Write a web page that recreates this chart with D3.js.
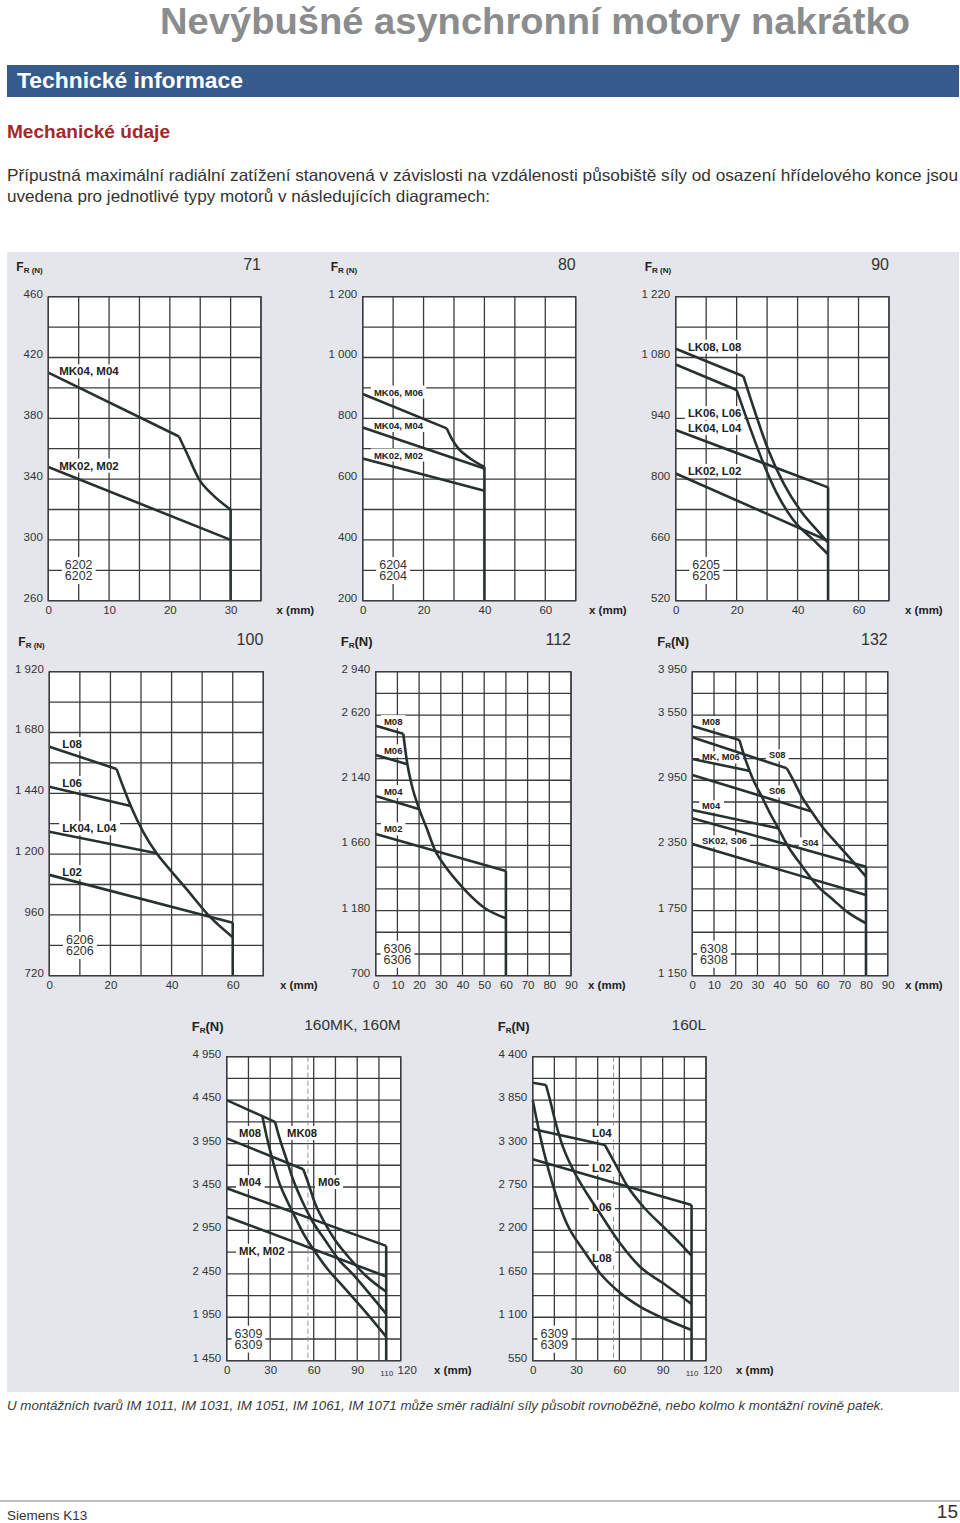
<!DOCTYPE html>
<html><head><meta charset="utf-8">
<script src="https://cdn.jsdelivr.net/npm/d3@7"></script>
<style>
html,body{margin:0;padding:0;background:#fff;}
svg{display:block;font-family:"Liberation Sans",Arial,Helvetica,sans-serif;}
</style></head><body>
<svg id="page" width="960" height="1523"></svg>
<script>
// ---------------- DATA ----------------
// Chart 71
const c71_xTicks = [0, 10, 20, 30];
const c71_yTicks = [260, 300, 340, 380, 420, 460];
const c71_MK04_M04 = [[0, 410], [21.5, 368]];
const c71_MK04_M04_bend = [[21.5, 368], [22.8, 357], [24.8, 340], [27.1, 329.5], [30, 320]];
const c71_MK02_M02 = [[0, 348], [30, 300]];
const c71_limit = [[30, 320], [30, 260]];
const c71_labels = [{text: "MK04, M04", x: 1.8, y: 411}, {text: "MK02, M02", x: 1.8, y: 349}];
const c71_bearing = ["6202", "6202"];

// Chart 80
const c80_xTicks = [0, 20, 40, 60];
const c80_yTicks = [200, 400, 600, 800, 1000, 1200];
const c80_MK06_M06 = [[0, 880], [27.6, 767]];
const c80_MK06_M06_bend = [[27.6, 767], [29.2, 734], [31.4, 701], [35.3, 668], [40, 640]];
const c80_MK04_M04 = [[0, 770], [40, 635]];
const c80_MK02_M02 = [[0, 668], [40, 562]];
const c80_limit = [[40, 640], [40, 200]];
const c80_labels = [{text: "MK06, M06", x: 3.7, y: 886}, {text: "MK04, M04", x: 3.7, y: 776}, {text: "MK02, M02", x: 3.7, y: 679}];
const c80_bearing = ["6204", "6204"];

// Chart 90
const c90_xTicks = [0, 20, 40, 60];
const c90_yTicks = [520, 660, 800, 940, 1080, 1220];
const c90_LK08_L08 = [[0, 1100], [22.2, 1037]];
const c90_LK08_L08_bend = [[22.2, 1037], [26, 955], [30.4, 867], [35.4, 790], [40.8, 729], [46.3, 683], [50, 654]];
const c90_LK06_L06 = [[0, 1064], [20, 1005]];
const c90_LK06_L06_bend = [[20, 1005], [24.4, 918], [28.8, 836], [33.2, 767], [38.6, 706], [45.2, 660], [50, 627]];
const c90_LK04_L04 = [[0, 913], [50, 781]];
const c90_LK02_L02 = [[0, 813], [50, 658]];
const c90_limit = [[50, 781], [50, 520]];
const c90_labels = [{text: "LK08, L08", x: 4, y: 1105}, {text: "LK06, L06", x: 4, y: 952}, {text: "LK04, L04", x: 4, y: 918}, {text: "LK02, L02", x: 4, y: 819}];
const c90_bearing = ["6205", "6205"];

// Chart 100
const c100_xTicks = [0, 20, 40, 60];
const c100_yTicks = [720, 960, 1200, 1440, 1680, 1920];
const c100_L08 = [[0, 1624], [22, 1536]];
const c100_L08_bend = [[22, 1536], [24.5, 1455], [27, 1380], [30.7, 1288], [35.1, 1203], [40, 1131], [44.9, 1062], [52.5, 953], [60, 872]];
const c100_L06 = [[0, 1466], [26.6, 1390]];
const c100_LK04_L04 = [[0, 1288], [35.1, 1203]];
const c100_L02 = [[0, 1118], [60, 929]];
const c100_limit = [[60, 929], [60, 720]];
const c100_labels = [{text: "L08", x: 4.2, y: 1635}, {text: "L06", x: 4.2, y: 1481}, {text: "LK04, L04", x: 4.2, y: 1303}, {text: "L02", x: 4.2, y: 1129}];
const c100_bearing = ["6206", "6206"];

// Chart 112
const c112_xTicks = [0, 10, 20, 30, 40, 50, 60, 70, 80, 90];
const c112_yTicks = [700, 1180, 1660, 2140, 2620, 2940];
const c112_M08 = [[0, 2542], [12.7, 2483]];
const c112_M08_bend = [[12.7, 2483], [14.6, 2258], [16.6, 2105], [20.1, 1926], [23.5, 1786], [27.3, 1626], [32.7, 1491], [40.4, 1344], [50.4, 1197], [60, 1123]];
const c112_M06 = [[0, 2326], [14.6, 2258]];
const c112_M04 = [[0, 2024], [20.1, 1926]];
const c112_M02 = [[0, 1744], [60, 1471]];
const c112_limit = [[60, 1471], [60, 700]];
const c112_labels = [{text: "M08", x: 3.8, y: 2572}, {text: "M06", x: 3.8, y: 2356}, {text: "M04", x: 3.8, y: 2056}, {text: "M02", x: 3.8, y: 1781}];
const c112_bearing = ["6306", "6306"];

// Chart 132
const c132_xTicks = [0, 10, 20, 30, 40, 50, 60, 70, 80, 90];
const c132_yTicks = [1150, 1750, 2350, 2950, 3550, 3950];
const c132_M08 = [[0, 3450], [21.7, 3321]];
const c132_M08_bend = [[21.7, 3321], [24.3, 3152], [28.1, 2952], [32, 2799], [35.8, 2646], [39.6, 2508], [44.2, 2338], [49.6, 2185], [57.3, 1985], [65, 1847], [71.2, 1740], [80, 1633]];
const c132_MK_M06 = [[0, 3146], [26.6, 3035]];
const c132_S08 = [[0, 3346], [43.5, 3060]];
const c132_S08_bend = [[43.5, 3060], [46.5, 2952], [50.4, 2799], [55, 2660], [60.4, 2508], [66.5, 2369], [72.7, 2231], [80, 2062]];
const c132_S06 = [[0, 2999], [54.6, 2665]];
const c132_M04 = [[0, 2676], [39.6, 2508]];
const c132_S04 = [[0, 2600], [80, 2154]];
const c132_SK02_S06 = [[0, 2363], [80, 1893]];
const c132_limit = [[80, 2154], [80, 1150]];
const c132_labels = [{text: "M08", x: 4.5, y: 3489}, {text: "MK, M06", x: 4.5, y: 3164}, {text: "S08", x: 35.3, y: 3183}, {text: "S06", x: 35.3, y: 2851}, {text: "M04", x: 4.5, y: 2713}, {text: "SK02, S06", x: 4.5, y: 2391}, {text: "S04", x: 50.5, y: 2372}];
const c132_bearing = ["6308", "6308"];

// Chart 160MK, 160M
const c160m_xTicks = [0, 30, 60, 90, 110, 120];
const c160m_yTicks = [1450, 1950, 2450, 2950, 3450, 3950, 4450, 4950];
const c160m_M08_MK08 = [[0, 4450], [33.3, 4200]];
const c160m_M08_bend = [[24.6, 4265], [27.6, 4029], [31, 3799], [35.6, 3530], [41.4, 3300], [45.9, 3147], [52.8, 2917], [60.9, 2705], [70.1, 2494], [79.3, 2322], [96.6, 1995], [110, 1726]];
const c160m_MK08_bend = [[33.3, 4200], [36.8, 3991], [41.4, 3761], [45.9, 3530], [51.7, 3300], [58.6, 3070], [67.8, 2840], [77, 2620], [87.3, 2440], [98, 2230], [110, 1990]];
const c160m_M06 = [[0, 4010], [52.8, 3654]];
const c160m_M06_bend = [[52.8, 3654], [56.3, 3492], [60.9, 3262], [67.8, 3032], [74.7, 2840], [83.9, 2647], [95.4, 2437], [110, 2244]];
const c160m_M04 = [[0, 3435], [110, 2772]];
const c160m_MK_M02 = [[0, 3108], [110, 2420]];
const c160m_limit = [[110, 2772], [110, 1450]];
const c160m_labels = [{text: "M08", x: 8.5, y: 4072}, {text: "MK08", x: 41.6, y: 4072}, {text: "M04", x: 8.5, y: 3507}, {text: "M06", x: 63, y: 3507}, {text: "MK, M02", x: 8.5, y: 2716}];
const c160m_bearing = ["6309", "6309"];

// Chart 160L
const c160l_xTicks = [0, 30, 60, 90, 110, 120];
const c160l_yTicks = [550, 1100, 1650, 2200, 2750, 3300, 3850, 4400];
const c160l_L06 = [[0, 4071], [9.2, 4042]];
const c160l_L06_bend = [[9.2, 4042], [12, 3852], [15.4, 3598], [20.1, 3303], [28.1, 2965], [37.4, 2670], [46.6, 2417], [60.5, 2037], [74.3, 1740], [90.4, 1530], [110, 1268]];
const c160l_L08 = [[0, 3852], [2.8, 3598], [7.4, 3218], [14.3, 2754], [23.5, 2290], [35, 1952], [46.6, 1657], [58.2, 1445], [74.3, 1234], [90.4, 1087], [110, 939]];
const c160l_L04 = [[0, 3484], [50, 3282]];
const c160l_L04_bend = [[50, 3282], [58.2, 3007], [65.1, 2775], [76.6, 2500], [90.4, 2247], [102, 2037], [110, 1880]];
const c160l_L02 = [[0, 3101], [110, 2522]];
const c160l_limit = [[110, 2522], [110, 550]];
const c160l_labels = [{text: "L04", x: 41, y: 3438}, {text: "L02", x: 41, y: 2995}, {text: "L06", x: 41, y: 2500}, {text: "L08", x: 41, y: 1851}];
const c160l_bearing = ["6309", "6309"];

const smallXTick = 110;
const dashedPosition = 56;

// ---------------- DRAWING ----------------
const FONT = '"Liberation Sans", Arial, Helvetica, sans-serif';
const GRID = "#3a3d3d";
const CURVE = "#283131";
const svg = d3.select("#page");

// header
svg.append("text").attr("x", 160).attr("y", 33.5).attr("font-family", FONT)
  .attr("font-weight", "bold").attr("font-size", 36).attr("fill", "#8b8c8e")
  .attr("textLength", 750).attr("lengthAdjust", "spacingAndGlyphs")
  .text("Nevýbušné asynchronní motory nakrátko");
svg.append("rect").attr("x", 7).attr("y", 65).attr("width", 952).attr("height", 32).attr("fill", "#355b8d");
svg.append("text").attr("x", 17).attr("y", 88).attr("font-weight", "bold").attr("font-size", 22).attr("fill", "#fff")
  .attr("textLength", 226).attr("lengthAdjust", "spacingAndGlyphs").text("Technické informace");
svg.append("text").attr("x", 7).attr("y", 138).attr("font-weight", "bold").attr("font-size", 17.5).attr("fill", "#a3282a")
  .attr("textLength", 163).attr("lengthAdjust", "spacingAndGlyphs").text("Mechanické údaje");
svg.append("text").attr("x", 7).attr("y", 181).attr("font-size", 16.5).attr("fill", "#333")
  .attr("textLength", 951).attr("lengthAdjust", "spacingAndGlyphs")
  .text("Přípustná maximální radiální zatížení stanovená v závislosti na vzdálenosti působiště síly od osazení hřídelového konce jsou");
svg.append("text").attr("x", 7).attr("y", 202).attr("font-size", 16.5).attr("fill", "#333")
  .attr("textLength", 483).attr("lengthAdjust", "spacingAndGlyphs")
  .text("uvedena pro jednotlivé typy motorů v následujících diagramech:");

// grey panel
svg.append("rect").attr("x", 7).attr("y", 252).attr("width", 952).attr("height", 1140).attr("fill", "#e4e6ec");

// footnote & footer
svg.append("text").attr("x", 7).attr("y", 1410).attr("font-size", 13).attr("font-style", "italic").attr("fill", "#3a3a3a")
  .attr("textLength", 877).attr("lengthAdjust", "spacingAndGlyphs")
  .text("U montážních tvarů IM 1011, IM 1031, IM 1051, IM 1061, IM 1071 může směr radiální síly působit rovnoběžně, nebo kolmo k montážní rovině patek.");
svg.append("line").attr("x1", 0).attr("x2", 960).attr("y1", 1501).attr("y2", 1501).attr("stroke", "#a8a8a8").attr("stroke-width", 1.5);
svg.append("text").attr("x", 7).attr("y", 1520).attr("font-size", 13.5).attr("fill", "#333").text("Siemens K13");
svg.append("text").attr("x", 958).attr("y", 1518).attr("text-anchor", "end").attr("font-size", 19).attr("fill", "#333").text("15");

function fmtN(d) { return d >= 1000 ? d3.format(",")(d).replace(/,/g, " ") : String(d); }

function drawChart(cfg) {
  const g = svg.append("g");
  const x = d3.scaleLinear().domain([0, cfg.xMax]).range([cfg.left, cfg.left + cfg.width]);
  const y = d3.scaleLinear().domain([cfg.yMin, cfg.yMax]).range([cfg.top + cfg.height, cfg.top]);
  const bottom = cfg.top + cfg.height, right = cfg.left + cfg.width;

  g.append("rect").attr("x", cfg.left).attr("y", cfg.top).attr("width", cfg.width).attr("height", cfg.height).attr("fill", "#fff");
  const gridG = g.append("g").attr("stroke", GRID).attr("stroke-width", 1.3);
  d3.range(0, cfg.xMax + 1e-6, cfg.xStep).forEach(v => {
    gridG.append("line").attr("x1", x(v)).attr("x2", x(v)).attr("y1", cfg.top).attr("y2", bottom);
  });
  d3.range(cfg.yMin, cfg.yMax + 1e-6, cfg.yStep).forEach(v => {
    gridG.append("line").attr("x1", cfg.left).attr("x2", right).attr("y1", y(v)).attr("y2", y(v));
  });
  if (cfg.dashed) {
    g.append("line").attr("x1", x(dashedPosition)).attr("x2", x(dashedPosition)).attr("y1", cfg.top).attr("y2", bottom)
      .attr("stroke", "#8c8c8c").attr("stroke-width", 1).attr("stroke-dasharray", "5,3");
  }
  const boxG = g.append("g");
  const lineG = g.append("g");
  const textG = g.append("g");

  cfg.series.forEach(s => {
    const line = d3.line().x(d => x(d[0])).y(d => y(d[1])).curve(s.bend ? d3.curveMonotoneX : d3.curveLinear);
    lineG.append("path").datum(s.pts).attr("d", line).attr("fill", "none").attr("stroke", CURVE)
      .attr("stroke-width", 2.6).attr("stroke-linejoin", "round").attr("stroke-linecap", "butt");
  });

  cfg.labels.forEach(l => {
    const t = textG.append("text").attr("x", x(l.x)).attr("y", y(l.y)).attr("dy", "0.36em")
      .attr("font-weight", "bold").attr("font-size", cfg.labelSize).attr("fill", "#222").text(l.text);
    const b = t.node().getBBox();
    boxG.append("rect").attr("x", b.x - 3).attr("y", b.y - 1).attr("width", b.width + 6).attr("height", b.height + 2).attr("fill", "#fff");
  });

  // bearing label
  const bx = x(cfg.xStep), by = y(cfg.yMin + cfg.yStep);
  const bt = textG.append("text").attr("text-anchor", "middle").attr("font-size", 12.5).attr("fill", "#333");
  bt.append("tspan").attr("x", bx).attr("y", by - 1.3).text(cfg.bearing[0]);
  bt.append("tspan").attr("x", bx).attr("y", by + 9.7).text(cfg.bearing[1]);
  const bb = bt.node().getBBox();
  boxG.append("rect").attr("x", bb.x - 3).attr("y", bb.y - 1).attr("width", bb.width + 6).attr("height", bb.height + 2).attr("fill", "#fff");

  g.append("rect").attr("x", cfg.left).attr("y", cfg.top).attr("width", cfg.width).attr("height", cfg.height)
    .attr("fill", "none").attr("stroke", GRID).attr("stroke-width", 1.4);

  // axes
  const ya = g.append("g").attr("transform", `translate(${cfg.left},0)`)
    .call(d3.axisLeft(y).tickValues(cfg.yTicks).tickSize(0).tickPadding(5.5).tickFormat(fmtN));
  ya.select(".domain").remove();
  ya.attr("font-family", FONT).attr("font-size", 11.5);
  ya.selectAll("text").attr("fill", "#333").attr("dy", "0.04em");

  const xa = g.append("g").attr("transform", `translate(0,${bottom})`)
    .call(d3.axisBottom(x).tickValues(cfg.xTicks).tickSize(0).tickPadding(5.3).tickFormat(d => String(d)));
  xa.select(".domain").remove();
  xa.attr("font-family", FONT).attr("font-size", 11.5);
  xa.selectAll("text").attr("fill", "#333");
  if (cfg.xTicks.includes(smallXTick)) {
    xa.selectAll("text").filter(d => d === smallXTick).attr("font-size", 8).attr("dy", "1.2em");
    xa.selectAll("text").filter(d => d === cfg.xMax).attr("dx", 6);
  }
  g.append("text").attr("x", cfg.xLabX).attr("y", bottom + 13.5).attr("font-weight", "bold").attr("font-size", 11.5)
    .attr("fill", "#222").text("x (mm)");

  // title
  g.append("text").attr("x", right).attr("y", cfg.top - 27).attr("text-anchor", "end").attr("font-size", cfg.titleSize)
    .attr("fill", "#333").text(cfg.title);

  // F_R (N)
  const fr = g.append("text").attr("x", cfg.left + cfg.fOff).attr("y", cfg.top - 25.5).attr("font-weight", "bold").attr("fill", "#222");
  if (cfg.fr === "small") {
    fr.append("tspan").attr("font-size", 12).text("F");
    fr.append("tspan").attr("font-size", 8).attr("dy", 2).text("R (N)");
  } else {
    fr.append("tspan").attr("font-size", 13).text("F");
    fr.append("tspan").attr("font-size", 8).attr("dy", 2).text("R");
    fr.append("tspan").attr("font-size", 13).attr("dy", -2).text("(N)");
  }
}

const charts = [
  {title: "71", titleSize: 16, left: 48.3, top: 296.7, width: 212.7, height: 304, xMax: 35, xStep: 5, yMin: 260, yMax: 460, yStep: 20,
   xTicks: c71_xTicks, yTicks: c71_yTicks, fr: "small", fOff: -32, xLabX: 276.5, labelSize: 11.5, bearing: c71_bearing,
   series: [{pts: c71_MK04_M04}, {pts: c71_MK04_M04_bend, bend: true}, {pts: c71_MK02_M02}, {pts: c71_limit}], labels: c71_labels},
  {title: "80", titleSize: 16, left: 362.7, top: 296.7, width: 213, height: 304, xMax: 70, xStep: 10, yMin: 200, yMax: 1200, yStep: 100,
   xTicks: c80_xTicks, yTicks: c80_yTicks, fr: "small", fOff: -32, xLabX: 589, labelSize: 9.5, bearing: c80_bearing,
   series: [{pts: c80_MK06_M06}, {pts: c80_MK06_M06_bend, bend: true}, {pts: c80_MK04_M04}, {pts: c80_MK02_M02}, {pts: c80_limit}], labels: c80_labels},
  {title: "90", titleSize: 16, left: 675.7, top: 296.7, width: 213.3, height: 304, xMax: 70, xStep: 10, yMin: 520, yMax: 1220, yStep: 70,
   xTicks: c90_xTicks, yTicks: c90_yTicks, fr: "small", fOff: -31, xLabX: 905, labelSize: 11.3, bearing: c90_bearing,
   series: [{pts: c90_LK08_L08}, {pts: c90_LK08_L08_bend, bend: true}, {pts: c90_LK06_L06}, {pts: c90_LK06_L06_bend, bend: true}, {pts: c90_LK04_L04}, {pts: c90_LK02_L02}, {pts: c90_limit}], labels: c90_labels},
  {title: "100", titleSize: 16, left: 49.3, top: 671.7, width: 214, height: 304, xMax: 70, xStep: 10, yMin: 720, yMax: 1920, yStep: 120,
   xTicks: c100_xTicks, yTicks: c100_yTicks, fr: "small", fOff: -31, xLabX: 280, labelSize: 11.5, bearing: c100_bearing,
   series: [{pts: c100_L08}, {pts: c100_L08_bend, bend: true}, {pts: c100_L06}, {pts: c100_LK04_L04}, {pts: c100_L02}, {pts: c100_limit}], labels: c100_labels},
  {title: "112", titleSize: 16, left: 375.7, top: 671.7, width: 195.3, height: 304, xMax: 90, xStep: 10, yMin: 700, yMax: 2940, yStep: 160,
   xTicks: c112_xTicks, yTicks: c112_yTicks, fr: "big", fOff: -35, xLabX: 588, labelSize: 9.5, bearing: c112_bearing,
   series: [{pts: c112_M08}, {pts: c112_M08_bend, bend: true}, {pts: c112_M06}, {pts: c112_M04}, {pts: c112_M02}, {pts: c112_limit}], labels: c112_labels},
  {title: "132", titleSize: 16, left: 692.3, top: 671.7, width: 195.4, height: 304, xMax: 90, xStep: 10, yMin: 1150, yMax: 3950, yStep: 200,
   xTicks: c132_xTicks, yTicks: c132_yTicks, fr: "big", fOff: -35, xLabX: 905, labelSize: 9.3, bearing: c132_bearing,
   series: [{pts: c132_M08}, {pts: c132_M08_bend, bend: true}, {pts: c132_MK_M06}, {pts: c132_S08}, {pts: c132_S08_bend, bend: true}, {pts: c132_S06}, {pts: c132_M04}, {pts: c132_S04}, {pts: c132_SK02_S06}, {pts: c132_limit}], labels: c132_labels},
  {title: "160MK, 160M", titleSize: 15.5, left: 226.7, top: 1056.7, width: 174, height: 304, xMax: 120, xStep: 15, yMin: 1450, yMax: 4950, yStep: 250,
   xTicks: c160m_xTicks, yTicks: c160m_yTicks, fr: "big", fOff: -35, xLabX: 434, labelSize: 11.3, bearing: c160m_bearing, dashed: true,
   series: [{pts: c160m_M08_MK08}, {pts: c160m_M08_bend, bend: true}, {pts: c160m_MK08_bend, bend: true}, {pts: c160m_M06}, {pts: c160m_M06_bend, bend: true}, {pts: c160m_M04}, {pts: c160m_MK_M02}, {pts: c160m_limit}], labels: c160m_labels},
  {title: "160L", titleSize: 15.5, left: 532.7, top: 1056.7, width: 173.3, height: 304, xMax: 120, xStep: 15, yMin: 550, yMax: 4400, yStep: 275,
   xTicks: c160l_xTicks, yTicks: c160l_yTicks, fr: "big", fOff: -35, xLabX: 736, labelSize: 11.5, bearing: c160l_bearing, dashed: true,
   series: [{pts: c160l_L06}, {pts: c160l_L06_bend, bend: true}, {pts: c160l_L08, bend: true}, {pts: c160l_L04}, {pts: c160l_L04_bend, bend: true}, {pts: c160l_L02}, {pts: c160l_limit}], labels: c160l_labels}
];
charts.forEach(drawChart);
</script></body></html>
